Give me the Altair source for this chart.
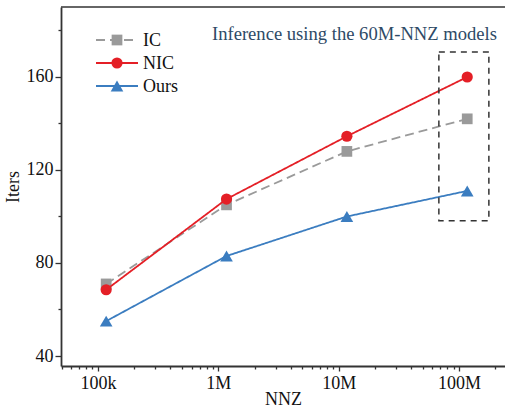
import altair as alt
import pandas as pd

# ---- data ----
nnz = [1.17e5, 1.17e6, 1.17e7, 1.17e8]
series_names = ["IC", "NIC", "Ours"]
ic_iters = [71, 105, 128, 142]
nic_iters = [68.5, 107.5, 134.5, 160]
ours_iters = [55, 83, 100, 111]

x_major = [1e5, 1e6, 1e7, 1e8]
x_major_labels = ["100k", "1M", "10M", "100M"]
y_major = [40, 80, 120, 160]
y_minor = [60, 100, 140, 180]

annotation = "Inference using the 60M-NNZ models"
box_x = [6.8e7, 1.77e8]
box_y = [98.2, 170.8]

colors = {"IC": "#9a9a9a", "NIC": "#e41f26", "Ours": "#3b7dc0"}
shapes = {"IC": "square", "NIC": "circle", "Ours": "triangle-up"}
sizes = {"IC": 115, "NIC": 125, "Ours": 160}
dashes = {"IC": [9, 5], "NIC": [1, 0], "Ours": [1, 0]}
values = {"IC": ic_iters, "NIC": nic_iters, "Ours": ours_iters}

FONT = "Liberation Serif"
W, H = 444, 359
X_DOM = [4.93e4, 2.41e8]
Y_DOM = [35.7, 190.1]

# minor x ticks (axis decoration)
x_ticks = []
for e in range(4, 9):
    for k in range(1, 10):
        v = k * 10 ** e
        if X_DOM[0] <= v <= X_DOM[1]:
            x_ticks.append(v)
y_ticks = sorted(y_major + y_minor)

x_label_expr = " : ".join(
    f"(abs(datum.value - {v}) < {v * 1e-6}) ? '{l}'" for v, l in zip(x_major, x_major_labels)
) + " : ''"
x_major_test = " || ".join(f"abs(datum.value - {v}) < {v * 1e-6}" for v in x_major)
y_label_expr = "indexof(" + str(y_major) + ", datum.value) >= 0 ? datum.value : ''"
y_major_test = "indexof(" + str(y_major) + ", datum.value) >= 0"

xscale = alt.Scale(type="log", domain=X_DOM, nice=False)
yscale = alt.Scale(domain=Y_DOM, nice=False, zero=False)

xaxis = alt.Axis(
    values=x_ticks, labelExpr=x_label_expr, title="NNZ", grid=False,
    tickSize={"condition": {"test": x_major_test, "value": 5}, "value": 3},
    labelOverlap=False, labelFlush=False, labelPadding=3,
    titleBaseline="alphabetic", titleY=38,
)
yaxis = alt.Axis(
    values=y_ticks, labelExpr=y_label_expr, title="Iters", grid=False,
    tickSize={"condition": {"test": y_major_test, "value": 6}, "value": 3},
    labelOverlap=False, labelFlush=False, labelPadding=2, titlePadding=4,
)

X = alt.X("nnz:Q", scale=xscale, axis=xaxis)
Y = alt.Y("iters:Q", scale=yscale, axis=yaxis)

layers = []
for s in series_names:
    df = pd.DataFrame({"nnz": nnz, "iters": values[s], "series": s})
    base = alt.Chart(df)
    line = base.mark_line(color=colors[s], strokeWidth=1.8, strokeDash=dashes[s]).encode(x=X, y=Y)
    pts = base.mark_point(
        shape=shapes[s], filled=True, color=colors[s], opacity=1, size=sizes[s]
    ).encode(x=X, y=Y)
    layers += [line, pts]

# dashed highlight box
box_df = pd.DataFrame({"nnz": [box_x[0]], "x2": [box_x[1]], "iters": [box_y[0]], "y2": [box_y[1]]})
box = alt.Chart(box_df).mark_rect(
    fill=None, fillOpacity=0, stroke="#333333", strokeWidth=1.5, strokeDash=[6, 5]
).encode(x=X, x2="x2:Q", y=Y, y2="y2:Q")
layers.append(box)

# top frame line
top = alt.Chart(pd.DataFrame({"a": [0]})).mark_rule(color="#333333", strokeWidth=1.5).encode(
    x=alt.value(0), x2=alt.value(W), y=alt.value(0)
)
layers.append(top)

# annotation text
ann = alt.Chart(pd.DataFrame({"t": [annotation]})).mark_text(
    align="right", baseline="alphabetic", font=FONT, fontSize=18.6, color="#2e4a66"
).encode(x=alt.value(436), y=alt.value(33), text="t:N")
layers.append(ann)

# manual legend
leg_y = [33, 56, 79]
for s, ly in zip(series_names, leg_y):
    ldf = pd.DataFrame({"name": [s]})
    lb = alt.Chart(ldf)
    layers.append(lb.mark_rule(color=colors[s], strokeWidth=1.8, strokeDash=dashes[s]).encode(
        x=alt.value(35), x2=alt.value(77), y=alt.value(ly)))
    layers.append(lb.mark_point(shape=shapes[s], filled=True, color=colors[s], opacity=1,
                                size=sizes[s]).encode(
        x=alt.value(56), y=alt.value(ly)))
    layers.append(lb.mark_text(align="left", baseline="middle", font=FONT, fontSize=18,
                               color="#111111").encode(
        x=alt.value(82), y=alt.value(ly + 1), text="name:N"))

chart = alt.layer(*layers).properties(
    width=W, height=H,
    autosize=alt.AutoSizeParams(type="none"),
    padding={"left": 61, "top": 7, "right": 0, "bottom": 43},
).configure(background="white").configure_view(stroke=None).configure_axis(
    labelFont=FONT, titleFont=FONT, labelFontSize=18, titleFontSize=18,
    labelColor="#111111", titleColor="#111111", titleFontWeight="normal",
    domainColor="#333333", domainWidth=1.8, tickColor="#333333", tickWidth=1.3,
)

chart.save("out.html", embed_options={"renderer": "svg", "actions": False})
